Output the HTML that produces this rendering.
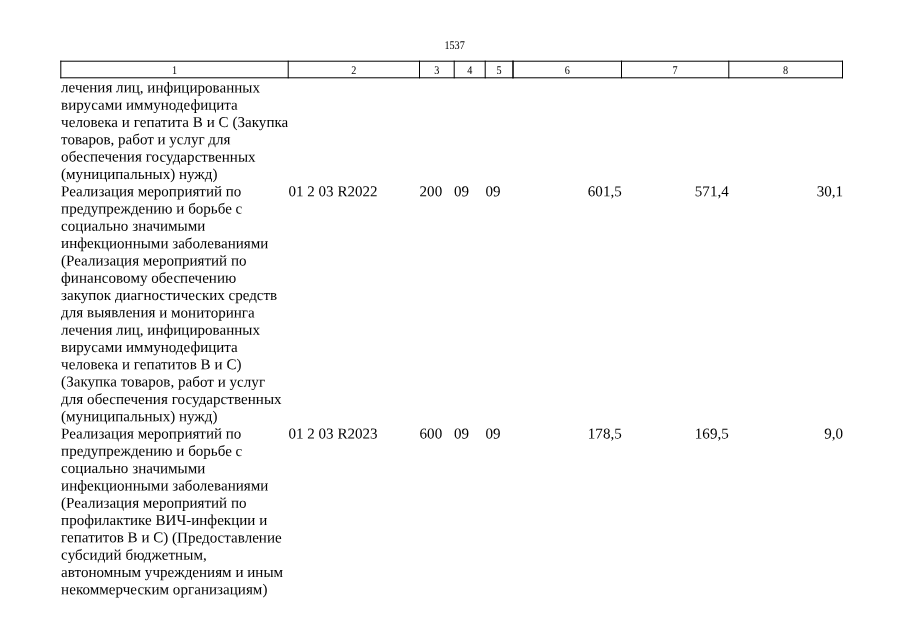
<!DOCTYPE html>
<html lang="ru">
<head>
<meta charset="utf-8">
<title>1537</title>
<style>
html,body{margin:0;padding:0;background:#fff;}
body{width:905px;height:640px;overflow:hidden;}
svg{display:block;}
text{font-family:"Liberation Serif","Times New Roman",serif;fill:#000;text-rendering:geometricPrecision;white-space:pre;}
.b{font-size:15.05px;}
.h{font-size:10.75px;text-anchor:middle;}
.e{text-anchor:end;}
</style>
</head>
<body>
<svg width="905" height="640" viewBox="0 0 905 640">
<rect width="905" height="640" fill="#fff"/>
<g fill="#000">
<rect x="60.30" y="60.70" width="782.70" height="1.0"/>
<rect x="60.30" y="77.30" width="782.70" height="1.0"/>
<rect x="60.30" y="60.70" width="1.0" height="17.60"/>
<rect x="287.70" y="60.70" width="1.0" height="17.60"/>
<rect x="419.00" y="60.70" width="1.0" height="17.60"/>
<rect x="453.70" y="60.70" width="1.0" height="17.60"/>
<rect x="484.70" y="60.70" width="1.0" height="17.60"/>
<rect x="512.50" y="60.70" width="1.0" height="17.60"/>
<rect x="512.50" y="60.70" width="1.0" height="17.60"/>
<rect x="621.00" y="60.70" width="1.0" height="17.60"/>
<rect x="728.30" y="60.70" width="1.0" height="17.60"/>
<rect x="842.00" y="60.70" width="1.0" height="17.60"/>
</g>
<g class="h" transform="scale(0.95,1.09)">
<text x="478.53" y="44.86">1537</text>
<text x="183.68" y="67.52">1</text>
<text x="372.47" y="67.52">2</text>
<text x="459.84" y="67.52">3</text>
<text x="494.42" y="67.52">4</text>
<text x="525.37" y="67.52">5</text>
<text x="597.11" y="67.52">6</text>
<text x="710.68" y="67.52">7</text>
<text x="827.00" y="67.52">8</text>
</g>
<g class="b">
<text transform="matrix(1,0.0005,0,1.0,0,-0.031)" x="61.1" y="92.35" letter-spacing="0.0204">лечения лиц, инфицированных</text>
<text transform="matrix(1,0.0005,0,1.0,0,-0.031)" x="61.1" y="109.66" letter-spacing="0.0073">вирусами иммунодефицита</text>
<text transform="matrix(1,0.0005,0,1.0,0,-0.031)" x="61.1" y="126.96" letter-spacing="0.0300">человека и гепатита В и С (Закупка</text>
<text transform="matrix(1,0.0005,0,1.0,0,-0.031)" x="61.1" y="144.27" letter-spacing="-0.0180">товаров, работ и услуг для</text>
<text transform="matrix(1,0.0005,0,1.0,0,-0.031)" x="61.1" y="161.58" letter-spacing="0.0435">обеспечения государственных</text>
<text transform="matrix(1,0.0005,0,1.0,0,-0.031)" x="61.1" y="178.88" letter-spacing="-0.0050">(муниципальных) нужд)</text>
<text transform="matrix(1,0.0005,0,1.0,0,-0.031)" x="61.1" y="196.19" letter-spacing="-0.0200">Реализация мероприятий по</text>
<text transform="matrix(1,0.0005,0,1.0,0,-0.031)" x="61.1" y="213.50" letter-spacing="-0.0054">предупреждению и борьбе с</text>
<text transform="matrix(1,0.0005,0,1.0,0,-0.031)" x="61.1" y="230.81" letter-spacing="0.0300">социально значимыми</text>
<text transform="matrix(1,0.0005,0,1.0,0,-0.031)" x="61.1" y="248.11" letter-spacing="0.0069">инфекционными заболеваниями</text>
<text transform="matrix(1,0.0005,0,1.0,0,-0.031)" x="61.1" y="265.42" letter-spacing="-0.0100">(Реализация мероприятий по</text>
<text transform="matrix(1,0.0005,0,1.0,0,-0.031)" x="61.1" y="282.73" letter-spacing="0.0300">финансовому обеспечению</text>
<text transform="matrix(1,0.0005,0,1.0,0,-0.031)" x="61.1" y="300.03" letter-spacing="-0.0100">закупок диагностических средств</text>
<text transform="matrix(1,0.0005,0,1.0,0,-0.031)" x="61.1" y="317.34" letter-spacing="0.0165">для выявления и мониторинга</text>
<text transform="matrix(1,0.0005,0,1.0,0,-0.031)" x="61.1" y="334.65" letter-spacing="0.0204">лечения лиц, инфицированных</text>
<text transform="matrix(1,0.0005,0,1.0,0,-0.031)" x="61.1" y="351.95" letter-spacing="0.0073">вирусами иммунодефицита</text>
<text transform="matrix(1,0.0005,0,1.0,0,-0.031)" x="61.1" y="369.26" letter-spacing="0.0396">человека и гепатитов В и С)</text>
<text transform="matrix(1,0.0005,0,1.0,0,-0.031)" x="61.1" y="386.57" letter-spacing="0.0217">(Закупка товаров, работ и услуг</text>
<text transform="matrix(1,0.0005,0,1.0,0,-0.031)" x="61.1" y="403.88" letter-spacing="0.0417">для обеспечения государственных</text>
<text transform="matrix(1,0.0005,0,1.0,0,-0.031)" x="61.1" y="421.18" letter-spacing="-0.0050">(муниципальных) нужд)</text>
<text transform="matrix(1,0.0005,0,1.0,0,-0.144)" x="288.5" y="196.19">01 2 03 R2022</text>
<text transform="matrix(1,0.0005,0,1.0,0,-0.210)" x="419.6" y="196.19">200</text>
<text transform="matrix(1,0.0005,0,1.0,0,-0.227)" x="454.1" y="196.19">09</text>
<text transform="matrix(1,0.0005,0,1.0,0,-0.243)" x="485.5" y="196.19">09</text>
<text class="e" transform="matrix(1,0.0005,0,1.0,0,-0.311)" x="621.7" y="196.19">601,5</text>
<text class="e" transform="matrix(1,0.0005,0,1.0,0,-0.364)" x="728.7" y="196.19">571,4</text>
<text class="e" transform="matrix(1,0.0005,0,1.0,0,-0.422)" x="843.1" y="196.19">30,1</text>
<text transform="matrix(1,0.0005,0,1.0,0,-0.031)" x="61.1" y="438.49" letter-spacing="-0.0200">Реализация мероприятий по</text>
<text transform="matrix(1,0.0005,0,1.0,0,-0.031)" x="61.1" y="455.80" letter-spacing="-0.0054">предупреждению и борьбе с</text>
<text transform="matrix(1,0.0005,0,1.0,0,-0.031)" x="61.1" y="473.10" letter-spacing="0.0300">социально значимыми</text>
<text transform="matrix(1,0.0005,0,1.0,0,-0.031)" x="61.1" y="490.41" letter-spacing="0.0069">инфекционными заболеваниями</text>
<text transform="matrix(1,0.0005,0,1.0,0,-0.031)" x="61.1" y="507.72" letter-spacing="-0.0100">(Реализация мероприятий по</text>
<text transform="matrix(1,0.0005,0,1.0,0,-0.031)" x="61.1" y="525.02" letter-spacing="0.0146">профилактике ВИЧ-инфекции и</text>
<text transform="matrix(1,0.0005,0,1.0,0,-0.031)" x="61.1" y="542.33" letter-spacing="0.0106">гепатитов В и С) (Предоставление</text>
<text transform="matrix(1,0.0005,0,1.0,0,-0.031)" x="61.1" y="559.64" letter-spacing="0.0689">субсидий бюджетным,</text>
<text transform="matrix(1,0.0005,0,1.0,0,-0.031)" x="61.1" y="576.95" letter-spacing="0.0193">автономным учреждениям и иным</text>
<text transform="matrix(1,0.0005,0,1.0,0,-0.031)" x="61.1" y="594.25" letter-spacing="0.0300">некоммерческим организациям)</text>
<text transform="matrix(1,0.0005,0,1.0,0,-0.144)" x="288.5" y="438.49">01 2 03 R2023</text>
<text transform="matrix(1,0.0005,0,1.0,0,-0.210)" x="419.6" y="438.49">600</text>
<text transform="matrix(1,0.0005,0,1.0,0,-0.227)" x="454.1" y="438.49">09</text>
<text transform="matrix(1,0.0005,0,1.0,0,-0.243)" x="485.5" y="438.49">09</text>
<text class="e" transform="matrix(1,0.0005,0,1.0,0,-0.311)" x="621.7" y="438.49">178,5</text>
<text class="e" transform="matrix(1,0.0005,0,1.0,0,-0.364)" x="728.7" y="438.49">169,5</text>
<text class="e" transform="matrix(1,0.0005,0,1.0,0,-0.422)" x="843.1" y="438.49">9,0</text>
</g>
</svg>
</body>
</html>
